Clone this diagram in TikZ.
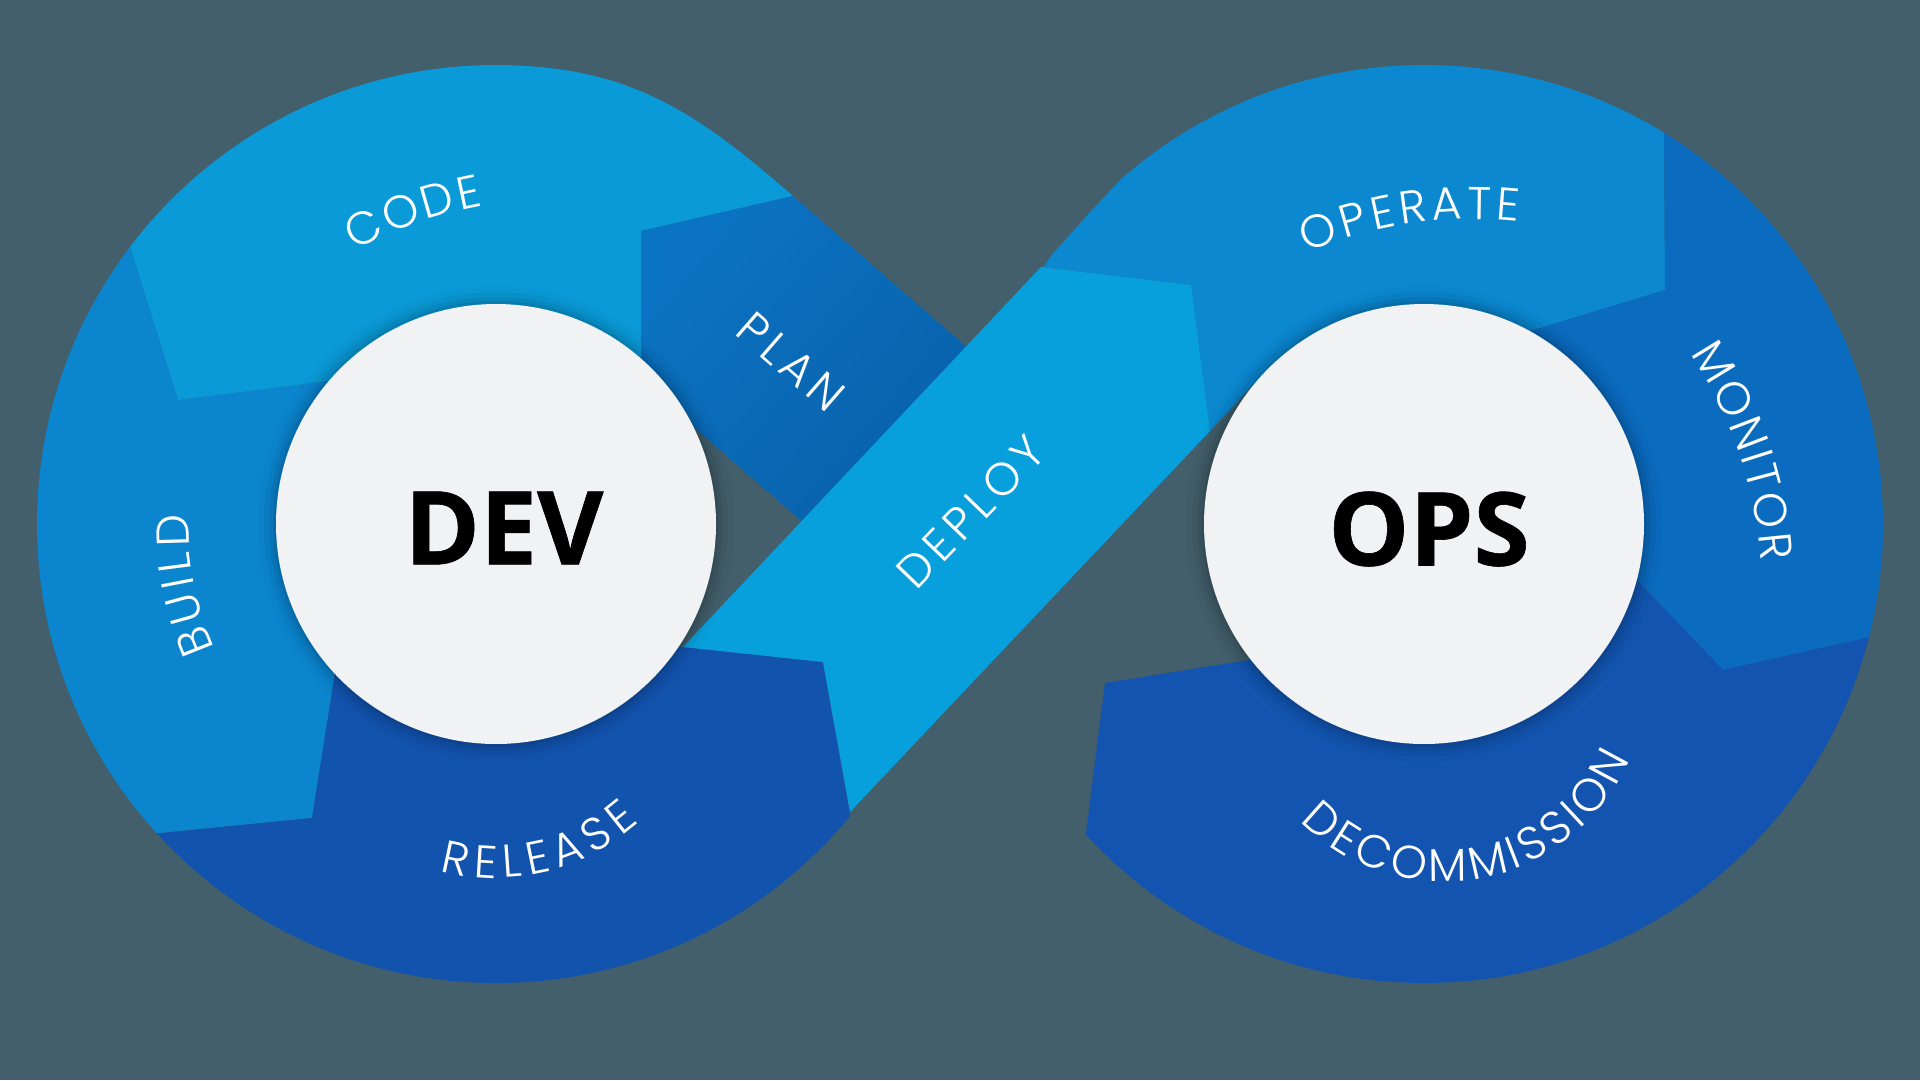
\documentclass[tikz,border=0pt]{standalone}
\usepackage{fontspec}
\usetikzlibrary{decorations.text}
\newfontfamily\lblfont[LetterSpace=12]{Poppins Light}
\newfontfamily\bigfont[BoldFeatures={FakeBold=0.6}]{Open Sans}
\newcommand\lblf{\lblfont\fontsize{46}{46}\selectfont}
\definecolor{bg}{HTML}{425F6B}
\definecolor{cCode}{HTML}{0A9AD8}
\definecolor{cBuild}{HTML}{0B85CE}
\definecolor{cRelease}{HTML}{1253AE}
\definecolor{cPlan}{HTML}{0B73C3}
\definecolor{cPlanD}{HTML}{085CA4}
\definecolor{cDeploy}{HTML}{08A0DC}
\definecolor{cOperate}{HTML}{0B88CF}
\definecolor{cMonitor}{HTML}{0B6BBF}
\definecolor{cDecom}{HTML}{1254B0}
\definecolor{cWhite}{HTML}{F1F2F4}
\tikzset{
  lbl/.style={text=white, font=\lblf, inner sep=0pt},
  bigtxt/.style={text=black, font=\bigfont\bfseries\fontsize{102}{102}\selectfont, inner sep=0pt},
  disc/.style={circle, fill=cWhite, minimum size=440pt, inner sep=0pt},
  arctext/.style 2 args={decorate, decoration={text along path, text align=center, text color=white, text={|\lblf\kern#2|#1}}},
}
\begin{document}
\begin{tikzpicture}[x=1pt,y=-1pt]
\useasboundingbox (0,0) rectangle (1920,1080);
\fill[bg] (0,0) rectangle (1920,1080);
\coordinate (C1) at (496,524);
\coordinate (C2) at (1424,524);
% left loop
\begin{scope}
  \clip (C1) circle (459);
  \fill[cBuild] (94,130) -- (178,400) -- (400,372) -- (345,610) -- (312,818) -- (60,843) -- (-200,843) -- (-200,130) -- cycle;
  \fill[cCode] (94,130) -- (178,400) -- (400,372) -- (641,524) -- (641,231) -- (793,196)
     .. controls (725,137) and (664,88) .. (575.7,72) -- (300,-50) -- cycle;
  \fill[cRelease] (60,843) -- (312,818) -- (345,610) -- (600,638) -- (823,662) -- (870,925) -- (870,1100) -- (-200,1100) -- (-200,843) -- cycle;
\end{scope}
% right loop
\begin{scope}
  \clip (C2) circle (459);
  \fill[cOperate] (1041,267) -- (1092,210) -- (1298,-8) -- (1663,-50) -- (1665,290) -- (1540,328) -- (1450,355) -- (1300,420) -- (1264,373) -- (1210,431) -- (1191,285) -- cycle;
  \fill[cMonitor] (1663,-50) -- (2100,-50) -- (2100,578) -- (2000,608) -- (1723,670) -- (1560,500) -- (1450,355) -- (1540,328) -- (1665,290) -- cycle;
  \fill[cDecom] (1723,670) -- (2000,608) -- (2100,608) -- (2100,1100) -- (1052,1100) -- (1080,880) -- (1105,683) -- (1330,647) -- (1560,500) -- cycle;
\end{scope}
% plan band
\shade[top color=cPlan, bottom color=cPlanD, shading angle=49] (641,231) -- (793,196) -- (1000,376) -- (900,607) -- (641,381) -- cycle;
% deploy band
\fill[cDeploy] (683,647) -- (823,662) -- (850,812) -- (1210,431) -- (1191,285) -- (1041,267) -- cycle;
% soft shadows of the discs
\foreach \r/\o in {238/0.025, 232/0.04, 227/0.06, 223/0.07} {
  \fill[black, opacity=\o] (C1) circle (\r);
  \fill[black, opacity=\o] (C2) circle (\r);
}
\node[disc] (dev) at (C1) {};
\node[disc] (ops) at (C2) {};
\node[bigtxt] (devt) at (504,528) {DEV};
\node[bigtxt] (opst) at (1429,529) {OPS};
% straight labels
\node[lbl, rotate=-41] (plan) at (791,362) {PLAN};
\node[lbl, rotate=46] (deploy) at (971,512) {DEPLOY};
% curved labels
\path[arctext={CODE}{3pt}] (555.7,619.5) ++(210.5:420) arc[start angle=210.5, end angle=290.5, radius=420];
\path[arctext={BUILD}{4.5pt}] (C1) ++(128.5:307.5) arc[start angle=128.5, end angle=208.5, radius=307.5];
\path[arctext={RELEASE}{7pt}] (494,664) ++(142:214) arc[start angle=142, end angle=12, radius=214];
\path[arctext={OPERATE}{4.5pt}] (1470.4,639.3) ++(221.5:420) arc[start angle=221.5, end angle=301.5, radius=420];
\path[arctext={MONITOR}{3pt}] (1341.6,588) ++(-59:420) arc[start angle=-59, end angle=21, radius=420];
\path[arctext={DECOMMISSION}{4.5pt}] (1444,680) ++(175:201.5) arc[start angle=175, end angle=-15, radius=201.5];
\end{tikzpicture}
\end{document}
